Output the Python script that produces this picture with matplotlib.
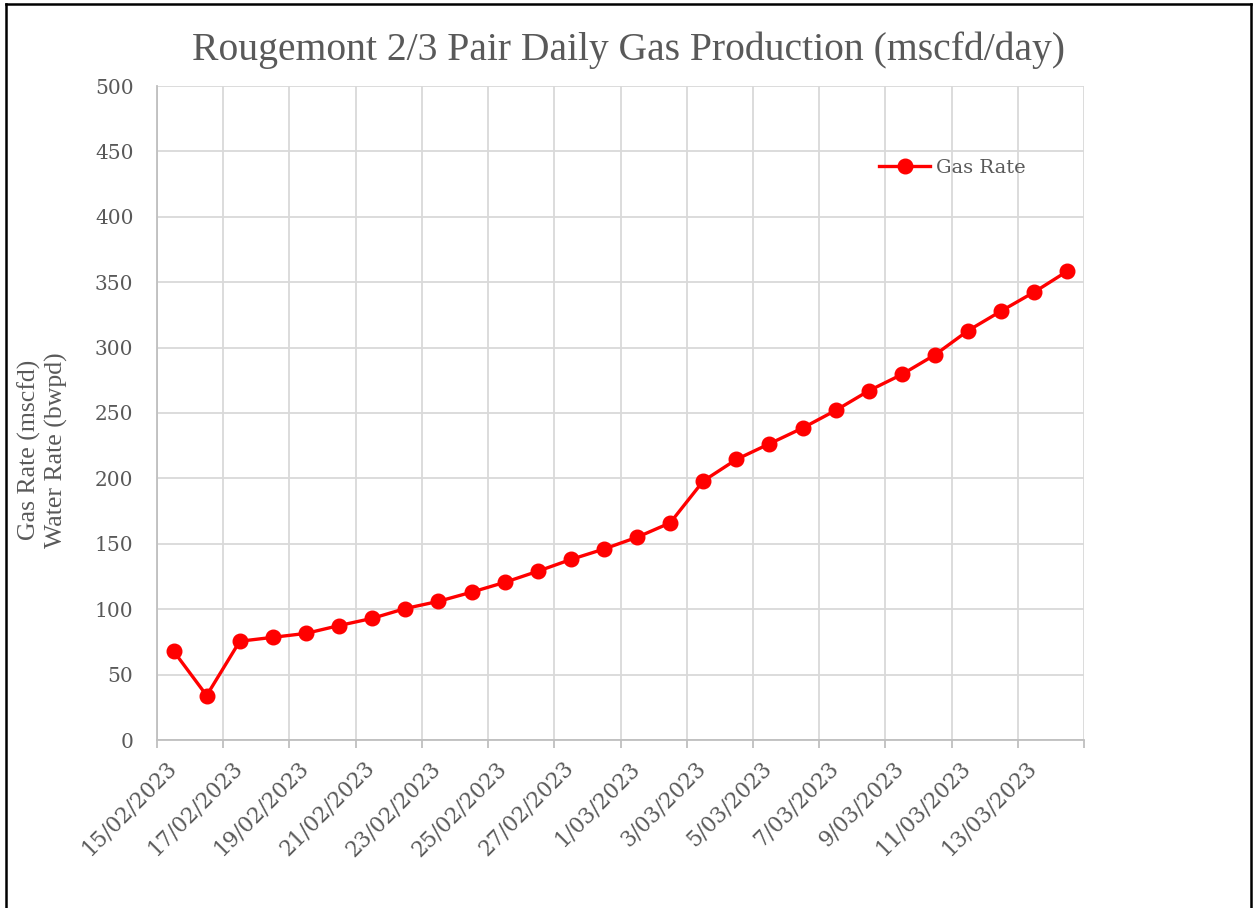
import matplotlib
matplotlib.use("Agg")
import matplotlib.pyplot as plt
from matplotlib.lines import Line2D
import matplotlib.transforms as mtransforms
import datetime as dt

title = "Rougemont 2/3 Pair Daily Gas Production (mscfd/day)"
ylabel = "Gas Rate (mscfd)\nWater Rate (bwpd)"
series_name = "Gas Rate"
start_date = "2023-02-15"
n_days = 28
gas_rate = [68, 34, 75.5, 78.5, 81.5, 87.5, 93, 100.5, 106, 113, 120.5, 129,
            138, 146, 155, 166, 198, 214.5, 226.5, 238.5, 252, 267, 279.5, 294.5,
            313, 328, 342.5, 358.5]
y_ticks = [0, 50, 100, 150, 200, 250, 300, 350, 400, 450, 500]

d0 = dt.datetime.strptime(start_date, "%Y-%m-%d")
dates = [d0 + dt.timedelta(days=i, hours=12) for i in range(n_days)]
tick_dates = [d0 + dt.timedelta(days=2 * k) for k in range(15)]
tick_labels = [f"{d.day}/{d.month:02d}/{d.year}" for d in tick_dates[:-1]] + [""]

text_col = "#595959"
grid_col = "#d9d9d9"
axis_col = "#bfbfbf"

fig = plt.figure(figsize=(12.54, 9.08), dpi=100)
ax = fig.add_axes([157/1254, 1-740/908, (1084-157)/1254, (740-86)/908])

ax.plot(dates, gas_rate, color="#ff0000", lw=2.4, marker="o", ms=10.5,
        label=series_name, zorder=3, clip_on=False)

ax.set_xlim(d0, d0 + dt.timedelta(days=28))
ax.set_ylim(0, 500)
ax.set_yticks(y_ticks)
ax.set_xticks(tick_dates)

ax.grid(True, color=grid_col, lw=1.3)
ax.set_axisbelow(True)
for s in ["top", "right"]:
    ax.spines[s].set_visible(False)
for s in ["left", "bottom"]:
    ax.spines[s].set_color(axis_col)
    ax.spines[s].set_linewidth(1.3)
ax.tick_params(axis="y", length=0, pad=17)
ax.tick_params(axis="x", length=6, width=1.3, color=axis_col, direction="out", pad=4)

ax.set_xticklabels(tick_labels, rotation=45, ha="right", rotation_mode="anchor",
                   fontfamily="DejaVu Serif", fontsize=15.5, color=text_col)
offset = mtransforms.ScaledTranslation(8/100, -3/100, fig.dpi_scale_trans)
for lbl in ax.get_xticklabels():
    lbl.set_transform(lbl.get_transform() + offset)
for lbl in ax.get_yticklabels():
    lbl.set_fontfamily("DejaVu Serif")
    lbl.set_fontsize(14.5)
    lbl.set_color(text_col)

fig.text(628/1254, 1-50/908, title, fontfamily="Liberation Serif", fontsize=28.5,
         color=text_col, ha="center", va="center")
ax.set_ylabel(ylabel, fontfamily="Liberation Serif", fontsize=18.5, color=text_col,
              linespacing=1.2)
ax.yaxis.set_label_coords(-0.096, 0.443)

leg = ax.legend(loc="center", bbox_to_anchor=(0.858, 0.875), frameon=False,
                prop={"family": "DejaVu Serif", "size": 14}, handlelength=2.6,
                handletextpad=0.3)
for t in leg.get_texts():
    t.set_color(text_col)

# outer border (left, top, right)
fig.add_artist(Line2D([6/1254, 6/1254], [0, 1-4/908], transform=fig.transFigure, color="black", lw=1.8))
fig.add_artist(Line2D([6/1254, 1251/1254], [1-4/908, 1-4/908], transform=fig.transFigure, color="black", lw=1.8))
fig.add_artist(Line2D([1251/1254, 1251/1254], [0, 1-4/908], transform=fig.transFigure, color="black", lw=1.8))

fig.savefig("out.png", dpi=100)
